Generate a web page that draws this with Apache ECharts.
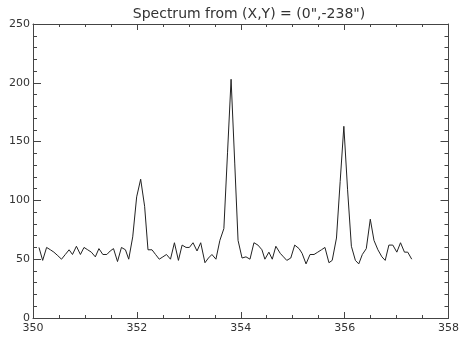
<!DOCTYPE html>
<html><head><meta charset="utf-8">
<script src="https://cdn.jsdelivr.net/npm/echarts@6/dist/echarts.min.js"></script>
<style>html,body{margin:0;padding:0;background:#fff}#c{width:462px;height:340px}</style>
</head><body><div id="c"></div>
<script>
const titleText = 'Spectrum from (X,Y) = (0",-238")';
const xTicks = [350, 352, 354, 356, 358];
const yTicks = [0, 50, 100, 150, 200, 250];
const wavelength = [350.115,350.186,350.262,350.335,350.402,350.478,350.549,350.622,350.695,350.760,
350.836,350.913,350.982,351.053,351.123,351.200,351.269,351.345,351.422,351.487,
351.550,351.627,351.703,351.780,351.843,351.920,351.996,352.073,352.149,352.214,
352.291,352.360,352.431,352.501,352.570,352.647,352.723,352.800,352.871,352.947,
353.011,353.081,353.158,353.229,353.311,353.378,353.445,353.522,353.598,353.675,
353.746,353.814,353.885,353.948,354.025,354.101,354.178,354.254,354.331,354.408,
354.465,354.542,354.607,354.676,354.760,354.823,354.886,354.963,355.039,355.123,
355.181,355.257,355.334,355.411,355.483,355.554,355.621,355.698,355.761,355.843,
355.914,355.985,356.057,356.130,356.207,356.272,356.341,356.417,356.494,356.565,
356.641,356.718,356.781,356.852,356.928,357.005,357.076,357.152,357.215,357.292];
const intensity = [60,49,60,58,56,53,50,54,58,54,
61,54,60,58,56,52,59,54,54,57,
59,48,60,58,50,69,103,118,95,58,
58,54,50,52,54,50,64,49,62,60,
60,64,57,64,47,51,54,50,66,76,
141,203,131,66,51,52,50,64,62,58,
50,56,50,61,55,52,49,51,62,59,
55,46,54,54,56,58,60,47,49,68,
116,163,109,61,49,46,54,59,84,66,
58,52,49,62,62,56,64,56,56,50];

const data = wavelength.map((x, i) => [x, intensity[i]]);
const axisColor = '#444';
const font = 'DejaVu Sans';
function xAx(pos, labels) {
  return {
    type: 'value', position: pos, min: xTicks[0], max: xTicks[xTicks.length-1], interval: 2,
    axisLine: {show: true, onZero: false, lineStyle: {color: axisColor, width: 1}},
    axisTick: {show: true, inside: true, length: 6, lineStyle: {color: axisColor}},
    minorTick: {show: true, splitNumber: 4, length: 3, lineStyle: {color: axisColor}},
    axisLabel: {show: labels, color: '#333', fontFamily: font, fontSize: 11, margin: 5},
    splitLine: {show: false}
  };
}
function yAx(pos, labels) {
  return {
    type: 'value', position: pos, min: yTicks[0], max: yTicks[yTicks.length-1], interval: 50,
    axisLine: {show: true, onZero: false, lineStyle: {color: axisColor, width: 1}},
    axisTick: {show: true, inside: true, length: 8, lineStyle: {color: axisColor}},
    minorTick: {show: true, splitNumber: 5, length: 4, lineStyle: {color: axisColor}},
    axisLabel: {show: labels, color: '#333', fontFamily: font, fontSize: 11, margin: 3},
    splitLine: {show: false}
  };
}
const chart = echarts.init(document.getElementById('c'), null, {renderer: 'canvas'});
chart.setOption({
  animation: false,
  backgroundColor: '#fff',
  title: {text: titleText, left: 244, top: 2, textAlign: 'center',
    textStyle: {fontFamily: font, fontSize: 14, fontWeight: 'normal', color: '#333'}},
  grid: {left: 33, right: 11, top: 24, bottom: 22, containLabel: false},
  xAxis: [xAx('bottom', true), xAx('top', false)],
  yAxis: [yAx('left', true), yAx('right', false)],
  series: [{type: 'line', data: data, xAxisIndex: 0, yAxisIndex: 0, symbol: 'none',
    lineStyle: {color: '#222', width: 1}}]
});
</script></body></html>
